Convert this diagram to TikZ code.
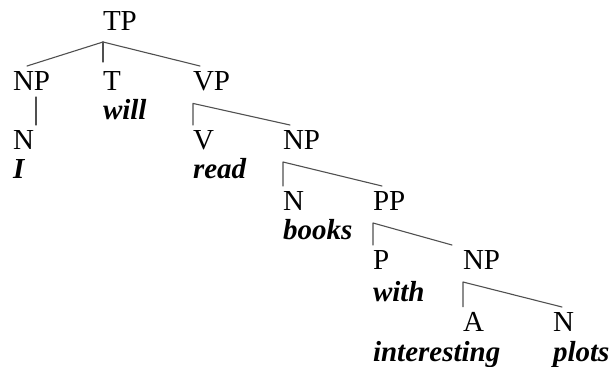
\documentclass[tikz,border=0pt]{standalone}
\usepackage{fontspec}
\setmainfont{Liberation Serif}
\usetikzlibrary{calc}

\begin{document}
\begin{tikzpicture}[x=0.5pt, y=-0.5pt, line cap=round, line join=round]

			% Colors
			\definecolor{lineG}{RGB}{80,80,80}

			\tikzset{
				cat/.style={anchor=base west, inner sep=0pt, outer xsep=0pt, outer ysep=3pt, font=\fontsize{14.5}{16}\selectfont},
				word/.style={cat, font=\fontsize{14.5}{16}\selectfont\bfseries\itshape},
				br/.style={draw=lineG, line width=0.55pt},
			}

			\useasboundingbox (0,0) rectangle (614,367);

			% --- Top: TP and its three daughters
			\node[cat] (tp) at (103,31) {TP};
			\node[cat] (np1) at (13,91) {NP};
			\node[cat] (t) at (103,91) {T};
			\node[cat] (vp) at (193,91) {VP};
			\node[word] (will) at (103,120) {will};

			% --- Subject
			\node[cat] (n1) at (13,150) {N};
			\node[word] (wI) at (13,179) {I};

			% --- VP: V + NP
			\node[cat] (v) at (193,150) {V};
			\node[cat] (np2) at (283,150) {NP};
			\node[word] (read) at (193,179) {read};

			% --- NP: N + PP
			\node[cat] (n2) at (283,211) {N};
			\node[cat] (pp) at (373,211) {PP};
			\node[word] (books) at (283,240) {books};

			% --- PP: P + NP
			\node[cat] (p) at (373,270) {P};
			\node[cat] (np3) at (463,270) {NP};
			\node[word] (with) at (373,302) {with};

			% --- NP: A + N
			\node[cat] (a) at (463,332) {A};
			\node[cat] (n3) at (553,332) {N};
			\node[word] (interesting) at (373,361) {interesting};
			\node[word] (plots) at (553,361) {plots};

			% --- Branch points
			\coordinate (tpj) at ([yshift=-2.5pt]tp.south west);
			\coordinate (vpj) at ([yshift=-3pt]vp.south west);
			\coordinate (np2j) at ([yshift=-3pt]np2.south west);
			\coordinate (ppj) at ([yshift=-3pt]pp.south west);
			\coordinate (np3j) at ([yshift=-3pt]np3.south west);

			% --- Branches
			\draw[br] (tpj) -- ([xshift=7pt]np1.north west);
			\draw[br] (tpj) -- ([yshift=2pt]t.north west);
			\draw[br] (tpj) -- ([xshift=3.5pt]vp.north west);
			\draw[br] ([xshift=11.5pt]np1.south west) -- ([xshift=11.5pt]n1.north west);

			\draw[br] (v.north west) -- (vpj) -- ([xshift=3.5pt]np2.north west);
			\draw[br] (n2.north west) -- (np2j) -- ([xshift=4.5pt]pp.north west);
			\draw[br] (p.north west) -- (ppj) -- ([xshift=-5.5pt]np3.north west);
			\draw[br] (a.north west) -- (np3j) -- ([xshift=4.5pt]n3.north west);

		\end{tikzpicture}
\end{document}
